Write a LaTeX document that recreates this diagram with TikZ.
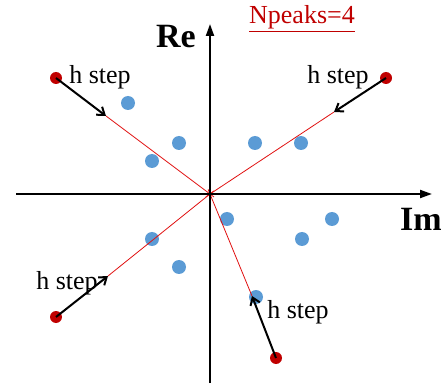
\documentclass[tikz,border=0pt]{standalone}
\usepackage{fontspec}
\setmainfont{Liberation Serif}
\usepackage{tikz}
\usetikzlibrary{arrows.meta, positioning, calc}
\definecolor{peakred}{HTML}{C00000}
\definecolor{rootblue}{HTML}{5B9BD5}
\definecolor{rayred}{HTML}{E01010}
\tikzset{
  rootdot/.style={
    circle, fill=rootblue, inner sep=0pt, minimum size=7pt
  },
  peakdot/.style={
    circle, fill=peakred, inner sep=0pt, minimum size=6pt
  },
  axisarrow/.style={
    -{Triangle[length=6pt, width=4pt]}, line width=1pt
  },
  steparrow/.style={
    -{Straight Barb[length=3.5pt, width=5pt]}, line width=1pt
  },
  rayline/.style={
    rayred, line width=0.4pt, shorten <=-2.5pt
  },
  steplabel/.style={
    font=\fontsize{13}{15}\selectfont, anchor=base
  },
  axislabel/.style={
    font=\fontsize{17}{20}\selectfont\bfseries
  },
}

\begin{document}
\begin{tikzpicture}[x=0.5pt, y=-0.5pt]
  \useasboundingbox (0,0) rectangle (445,385);

  % === Axes ===
  \coordinate (o) at (210,194);
  \coordinate (imleft) at (16,194);
  \coordinate (imright) at (432,194);
  \coordinate (rebottom) at (210,383);
  \coordinate (retop) at (210,24);

  % === Roots ===
  \node[rootdot] (r1) at (128,103) {};
  \node[rootdot] (r2) at (179,143) {};
  \node[rootdot] (r3) at (152,161) {};
  \node[rootdot] (r4) at (255,143) {};
  \node[rootdot] (r5) at (301,143) {};
  \node[rootdot] (r6) at (227,219) {};
  \node[rootdot] (r7) at (332,219) {};
  \node[rootdot] (r8) at (152,239) {};
  \node[rootdot] (r9) at (302,239) {};
  \node[rootdot] (r10) at (179,267) {};
  \node[rootdot] (r11) at (256,297) {};

  % === Step ends ===
  \coordinate (s1) at (106,116);
  \coordinate (s2) at (334,112);
  \coordinate (s3) at (108,276);
  \coordinate (s4) at (252,296);

  % === Rays ===
  \draw[rayline] (o) -- (s1);
  \draw[rayline] (o) -- (s2);
  \draw[rayline] (o) -- (s3);
  \draw[rayline] (o) -- (s4);

  \draw[axisarrow] (imleft) -- (imright);
  \draw[axisarrow] (rebottom) -- (retop);

  % === Peaks ===
  \node[peakdot] (p1) at (56,78) {};
  \node[peakdot] (p2) at (386,78) {};
  \node[peakdot] (p3) at (56,317) {};
  \node[peakdot] (p4) at (276,358) {};

  \draw[steparrow] (p1.center) -- (s1);
  \draw[steparrow] (p2.center) -- (s2);
  \draw[steparrow] (p3.center) -- (s3);
  \draw[steparrow] (p4.center) -- (s4);

  % === Labels ===
  \node[steplabel] (h1) at (100,84) {h step};
  \node[steplabel] (h2) at (338,84) {h step};
  \node[steplabel] (h3) at (67,289) {h step};
  \node[steplabel] (h4) at (298,319) {h step};

  \node[axislabel] (re) at (176,37) {Re};
  \node[axislabel] (im) at (421,219) {Im};
  \node[font=\fontsize{13}{15}\selectfont, text=peakred] (npeaks) at (302,19)
    {\underline{Npeaks=4}};

\end{tikzpicture}
\end{document}
